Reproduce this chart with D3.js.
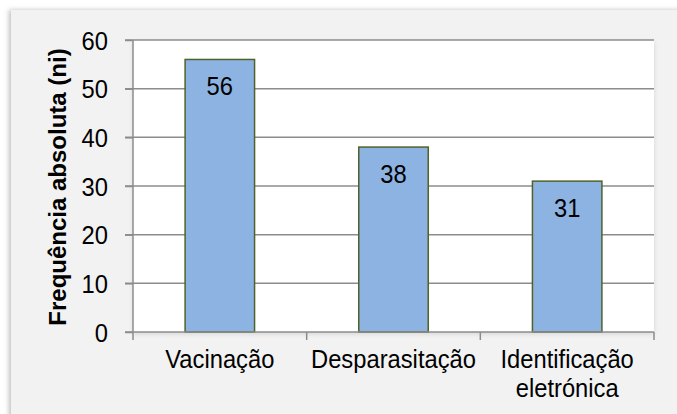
<!DOCTYPE html>
<html>
<head>
<meta charset="utf-8">
<script src="https://cdn.jsdelivr.net/npm/d3@7"></script>
<style>
	body { margin: 0; background: #ffffff; }
	text { font-family: Arial, "Liberation Sans", sans-serif; fill: #000000; }
</style>
</head>
<body>
<div id="chart"></div>
<script>
// Data
var categories = ["Vacinação", "Desparasitação", "Identificação eletrónica"];
var labelLines = [["Vacinação"], ["Desparasitação"], ["Identificação", "eletrónica"]];
var values = [56, 38, 31];
var yTicks = [0, 10, 20, 30, 40, 50, 60];
var yTitle = "Frequência absoluta (ni)";

var width = 677, height = 414;
var margin = {top: 40, right: 23, bottom: 82, left: 133};
var fontSize = "25px";
var squeeze = 0.95; // text in the picture is a bit narrow

var svg = d3.select("#chart")
	.append("svg")
		.attr("width", width)
		.attr("height", height);

// soft shadow filters, like the spreadsheet effect
var defs = svg.append("defs");
var panelShadow = defs.append("filter")
	.attr("id", "panel-shadow")
	.attr("x", "-5%").attr("y", "-5%")
	.attr("width", "110%").attr("height", "110%");
panelShadow.append("feDropShadow")
	.attr("dx", -2).attr("dy", 0)
	.attr("stdDeviation", 2.5)
	.attr("flood-color", "#000000")
	.attr("flood-opacity", 0.25);

var plotShadow = defs.append("filter")
	.attr("id", "plot-shadow")
	.attr("x", "-5%").attr("y", "-5%")
	.attr("width", "110%").attr("height", "110%");
plotShadow.append("feDropShadow")
	.attr("dx", 0).attr("dy", 2)
	.attr("stdDeviation", 2)
	.attr("flood-color", "#000000")
	.attr("flood-opacity", 0.12);

// Gray chart panel
svg.append("rect")
	.attr("x", 11)
	.attr("y", 10)
	.attr("width", width - 11 + 10)
	.attr("height", height - 10 + 10)
	.attr("fill", "#f2f2f2")
	.attr("filter", "url(#panel-shadow)");

var innerW = width - margin.left - margin.right,
    innerH = height - margin.top - margin.bottom;

var g = svg.append("g")
	.attr("transform", "translate(" + margin.left + "," + margin.top + ")");

// Plot area
g.append("rect")
	.attr("x", 0)
	.attr("y", 0)
	.attr("width", innerW)
	.attr("height", innerH)
	.attr("fill", "#ffffff")
	.attr("filter", "url(#plot-shadow)");

var xScale = d3.scaleBand()
	.domain(categories)
	.range([0, innerW])
	.paddingInner(0.6)
	.paddingOuter(0.3);

var yScale = d3.scaleLinear()
	.domain([0, 60])
	.range([innerH, 0]);

var gridColor = "#8c8c8c";

// Gridlines (with tick stubs on the left)
g.append("g")
	.selectAll("line")
	.data(yTicks.filter(function(d) { return d > 0; }))
	.enter()
	.append("line")
		.attr("x1", -8)
		.attr("x2", innerW)
		.attr("y1", function(d) { return yScale(d); })
		.attr("y2", function(d) { return yScale(d); })
		.attr("stroke", gridColor)
		.attr("stroke-width", 1.5);

// Y axis
var yAxis = g.append("g")
	.call(d3.axisLeft(yScale).tickValues(yTicks).tickSize(8));
yAxis.select(".domain").attr("stroke", gridColor).attr("stroke-width", 1.5)
	.attr("d", "M0," + innerH + "V0");
yAxis.selectAll(".tick line").attr("stroke", gridColor).attr("stroke-width", 1.5);
yAxis.selectAll(".tick text")
	.style("font-size", fontSize)
	.style("font-family", "Arial, 'Liberation Sans', sans-serif")
	.attr("fill", "#000000")
	.attr("x", 0)
	.attr("dy", "0.36em")
	.attr("transform", "translate(-25,0) scale(" + squeeze + ",1)");

// Bars
var bars = g.append("g")
	.selectAll("g")
	.data(values)
	.enter()
	.append("g");

bars.append("rect")
	.attr("x", function(d, i) { return xScale(categories[i]); })
	.attr("y", function(d) { return yScale(d); })
	.attr("width", xScale.bandwidth())
	.attr("height", function(d) { return innerH - yScale(d); })
	.attr("fill", "#8db3e2")
	.attr("stroke", "#4f6228")
	.attr("stroke-width", 1.5);

bars.append("text")
	.attr("transform", function(d, i) {
		return "translate(" + (xScale(categories[i]) + xScale.bandwidth() / 2) + "," + (yScale(d) + 36) + ") scale(" + squeeze + ",1)";
	})
	.attr("text-anchor", "middle")
	.style("font-size", fontSize)
	.text(function(d) { return d; });

// X axis: ticks at category boundaries
var boundaries = [0].concat(categories.map(function(c) { return xScale(c) + xScale.bandwidth() + xScale.step() * 0.3; }));
var xAxis = g.append("g")
	.attr("transform", "translate(0," + innerH + ")");
xAxis.append("line")
	.attr("x1", -8)
	.attr("x2", innerW)
	.attr("y1", 0)
	.attr("y2", 0)
	.attr("stroke", gridColor)
	.attr("stroke-width", 1.5);
xAxis.selectAll(".xtick")
	.data(boundaries)
	.enter()
	.append("line")
		.attr("class", "xtick")
		.attr("x1", function(d) { return d; })
		.attr("x2", function(d) { return d; })
		.attr("y1", 0)
		.attr("y2", 8)
		.attr("stroke", gridColor)
		.attr("stroke-width", 1.5);

var xLabels = xAxis.selectAll(".xlabel")
	.data(categories)
	.enter()
	.append("text")
		.attr("class", "xlabel")
		.attr("text-anchor", "middle")
		.attr("transform", function(d) {
			return "translate(" + (xScale(d) + xScale.bandwidth() / 2) + ",36) scale(" + squeeze + ",1)";
		})
		.style("font-size", fontSize);
xLabels.selectAll("tspan")
	.data(function(d, i) { return labelLines[i]; })
	.enter()
	.append("tspan")
		.attr("x", 0)
		.attr("y", function(d, i) { return i * 29; })
		.text(function(d) { return d; });

// Y title
svg.append("text")
	.attr("transform", "translate(66," + (margin.top + innerH / 2 + 1) + ") rotate(-90)")
	.attr("text-anchor", "middle")
	.style("font-size", "24px")
	.style("font-weight", "bold")
	.text(yTitle);
</script>
</body>
</html>
